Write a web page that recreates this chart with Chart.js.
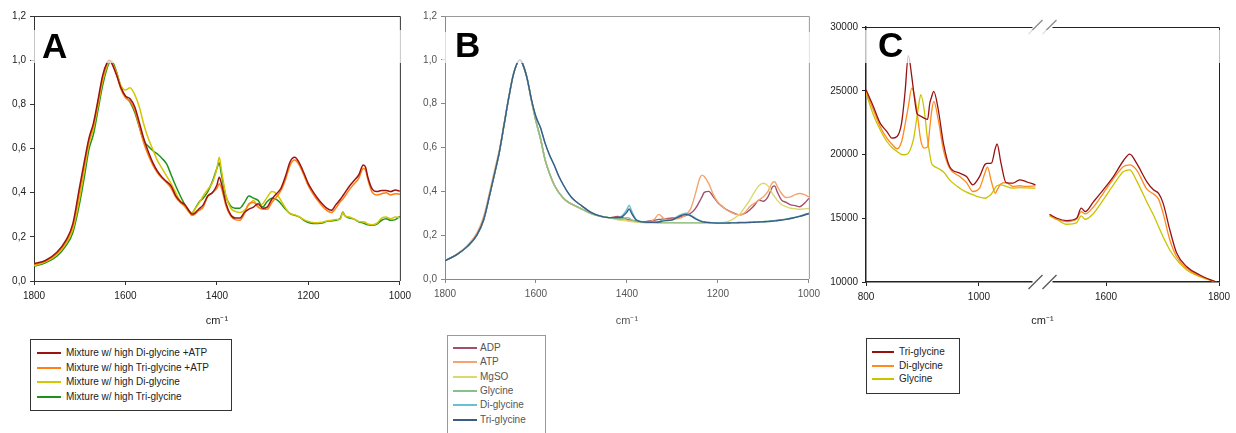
<!DOCTYPE html>
<html>
<head>
<meta charset="utf-8">
<script src="https://cdn.jsdelivr.net/npm/chart.js@4/dist/chart.umd.min.js"></script>
<style>
  body { margin: 0; background: #fff; width: 1236px; height: 433px; overflow: hidden; position: relative;
         font-family: "Liberation Sans", Arial, sans-serif; }
  canvas { position: absolute; top: 0; }
  .legend { position: absolute; background: #fff; border: 1px solid #333; box-sizing: border-box; }
  .legend .row { position: absolute; white-space: nowrap; font-size: 10px; line-height: 12px; }
  .legend .swatch { position: absolute; height: 2px; }
</style>
</head>
<body>
<canvas id="chartA" width="416" height="330" style="left:0px"></canvas>
<canvas id="chartB" width="410" height="330" style="left:415px"></canvas>
<canvas id="chartC" width="416" height="330" style="left:820px"></canvas>
<div id="legendA" class="legend" style="left:30px; top:339px; width:202px; height:72px;"></div>
<div id="legendB" class="legend" style="left:447px; top:335px; width:99px; height:110px; border-color:#999;"></div>
<div id="legendC" class="legend" style="left:866px; top:338px; width:94px; height:56px;"></div>

<script>
// ---------- panel A : mixtures, normalised ----------
var waveA = [1800,1775,1750,1730,1715,1700,1690,1680,1670,1660,1650,1640,1635,1630,1620,1610,1600,1590,1580,1570,
  1560,1550,1540,1530,1520,1510,1500,1490,1480,1470,1460,1455,1450,1440,1430,1420,1410,1400,1395,1390,
  1380,1370,1360,1350,1340,1330,1320,1310,1300,1290,1280,1270,1260,1250,1240,1230,1220,1210,1200,1190,
  1180,1170,1160,1150,1140,1130,1125,1120,1110,1100,1090,1080,1075,1070,1060,1050,1040,1030,1020,1010,1000];

var diAtpA = [0.078,0.093,0.13,0.185,0.26,0.43,0.54,0.645,0.715,0.82,0.93,0.99,1.0,0.985,0.935,0.875,0.838,0.825,0.79,0.72,
  0.645,0.585,0.535,0.497,0.47,0.45,0.43,0.385,0.36,0.345,0.315,0.303,0.305,0.325,0.345,0.385,0.40,0.435,0.47,0.44,
  0.35,0.30,0.285,0.285,0.31,0.325,0.335,0.35,0.33,0.335,0.37,0.395,0.42,0.475,0.54,0.56,0.535,0.49,0.44,0.405,
  0.375,0.35,0.33,0.32,0.345,0.37,0.385,0.40,0.43,0.455,0.48,0.525,0.515,0.47,0.415,0.405,0.41,0.41,0.405,0.412,0.407];

var triAtpA = [0.074,0.09,0.125,0.178,0.25,0.41,0.525,0.635,0.705,0.81,0.92,0.985,1.0,0.99,0.94,0.87,0.83,0.815,0.775,0.70,
  0.625,0.57,0.525,0.49,0.465,0.445,0.42,0.38,0.355,0.34,0.31,0.298,0.30,0.318,0.335,0.385,0.40,0.42,0.44,0.42,
  0.34,0.295,0.278,0.275,0.305,0.35,0.355,0.335,0.325,0.325,0.355,0.38,0.41,0.46,0.525,0.548,0.525,0.48,0.43,0.395,
  0.365,0.34,0.32,0.31,0.33,0.36,0.37,0.385,0.415,0.44,0.465,0.51,0.502,0.46,0.40,0.39,0.395,0.40,0.39,0.395,0.393];

var diA = [0.07,0.087,0.12,0.17,0.235,0.38,0.50,0.62,0.69,0.795,0.905,0.975,0.995,0.99,0.945,0.885,0.865,0.875,0.845,0.79,
  0.71,0.645,0.595,0.545,0.51,0.475,0.44,0.40,0.36,0.335,0.31,0.305,0.32,0.35,0.385,0.415,0.445,0.51,0.56,0.50,
  0.385,0.33,0.315,0.31,0.32,0.345,0.365,0.34,0.35,0.38,0.405,0.395,0.365,0.33,0.305,0.30,0.29,0.278,0.27,0.265,
  0.264,0.266,0.272,0.275,0.278,0.28,0.31,0.295,0.29,0.28,0.27,0.268,0.265,0.258,0.255,0.262,0.285,0.29,0.282,0.29,0.288];

var triA = [0.066,0.082,0.112,0.16,0.22,0.355,0.47,0.595,0.665,0.775,0.885,0.965,0.99,0.995,0.95,0.88,0.835,0.81,0.765,0.70,
  0.635,0.61,0.59,0.575,0.555,0.53,0.48,0.43,0.385,0.345,0.315,0.307,0.32,0.355,0.375,0.405,0.45,0.51,0.535,0.48,
  0.38,0.34,0.33,0.33,0.355,0.385,0.375,0.365,0.335,0.36,0.375,0.37,0.35,0.325,0.305,0.298,0.29,0.275,0.265,0.26,
  0.26,0.262,0.27,0.272,0.275,0.285,0.312,0.295,0.285,0.28,0.268,0.262,0.258,0.255,0.252,0.258,0.275,0.282,0.275,0.278,0.293];

var labelsA = ['Mixture w/ high Di-glycine +ATP', 'Mixture w/ high Tri-glycine +ATP', 'Mixture w/ high Di-glycine', 'Mixture w/ high Tri-glycine'];
var colorsA = ['#9b1414', '#ff7f10', '#d4c600', '#1e921e'];

// ---------- panel B : single components ----------
var waveB = [1800,1775,1750,1730,1715,1700,1690,1680,1670,1660,1650,1640,1635,1630,1620,1610,1600,1590,1580,1570,
  1560,1550,1540,1530,1520,1510,1500,1480,1460,1440,1420,1410,1400,1395,1390,1380,1370,1360,1350,1340,
  1330,1320,1310,1300,1290,1280,1270,1260,1250,1240,1235,1230,1220,1210,1200,1190,1180,1170,1160,1150,
  1140,1130,1120,1110,1100,1090,1080,1075,1070,1060,1050,1040,1030,1020,1010,1000];

var adpB = [0.083,0.11,0.15,0.2,0.27,0.4,0.49,0.585,0.705,0.825,0.93,0.99,1.0,0.985,0.92,0.815,0.72,0.64,0.545,0.48,
  0.43,0.395,0.37,0.352,0.34,0.33,0.32,0.30,0.287,0.28,0.285,0.28,0.272,0.27,0.268,0.265,0.262,0.262,0.265,0.268,
  0.272,0.274,0.276,0.278,0.28,0.285,0.29,0.30,0.32,0.355,0.375,0.395,0.40,0.375,0.348,0.33,0.315,0.305,0.296,0.293,
  0.30,0.315,0.335,0.36,0.355,0.375,0.42,0.425,0.40,0.36,0.35,0.338,0.335,0.33,0.345,0.368];

var atpB = [0.083,0.112,0.155,0.21,0.285,0.415,0.505,0.595,0.71,0.83,0.93,0.99,1.0,0.985,0.92,0.815,0.72,0.64,0.545,0.48,
  0.43,0.395,0.37,0.352,0.34,0.33,0.32,0.30,0.287,0.28,0.275,0.27,0.268,0.266,0.265,0.262,0.26,0.26,0.262,0.272,
  0.295,0.278,0.272,0.272,0.275,0.28,0.295,0.32,0.385,0.46,0.474,0.468,0.435,0.385,0.35,0.33,0.315,0.303,0.295,0.293,
  0.305,0.33,0.345,0.36,0.375,0.40,0.44,0.444,0.425,0.39,0.372,0.375,0.385,0.39,0.385,0.375];

var mgsoB = [0.083,0.11,0.15,0.2,0.27,0.4,0.49,0.585,0.705,0.825,0.93,0.99,1.0,0.985,0.92,0.815,0.72,0.64,0.545,0.48,
  0.43,0.395,0.37,0.352,0.34,0.33,0.32,0.30,0.287,0.28,0.27,0.268,0.265,0.263,0.262,0.26,0.258,0.257,0.257,0.257,
  0.257,0.257,0.257,0.257,0.256,0.256,0.256,0.256,0.256,0.256,0.256,0.256,0.256,0.256,0.257,0.258,0.262,0.27,0.283,0.30,
  0.33,0.36,0.395,0.425,0.437,0.425,0.39,0.375,0.36,0.34,0.33,0.323,0.32,0.318,0.32,0.322];

var glyB = [0.083,0.11,0.15,0.2,0.27,0.4,0.49,0.585,0.705,0.825,0.93,0.99,1.0,0.985,0.92,0.815,0.72,0.64,0.545,0.48,
  0.43,0.395,0.37,0.352,0.34,0.33,0.32,0.30,0.287,0.28,0.275,0.275,0.28,0.278,0.27,0.263,0.26,0.258,0.257,0.257,
  0.256,0.256,0.256,0.256,0.256,0.256,0.256,0.256,0.256,0.256,0.256,0.256,0.256,0.256,0.256,0.256,0.256,0.257,0.257,0.258,
  0.258,0.259,0.26,0.261,0.262,0.264,0.266,0.267,0.268,0.27,0.273,0.277,0.281,0.286,0.292,0.298];

var diglyB = [0.083,0.11,0.15,0.2,0.27,0.4,0.49,0.585,0.705,0.825,0.93,0.99,1.0,0.985,0.92,0.82,0.74,0.69,0.62,0.565,
  0.52,0.47,0.43,0.395,0.368,0.35,0.335,0.305,0.288,0.28,0.28,0.29,0.318,0.337,0.312,0.272,0.263,0.26,0.259,0.259,
  0.262,0.27,0.268,0.27,0.285,0.295,0.30,0.292,0.278,0.267,0.263,0.26,0.258,0.257,0.256,0.256,0.256,0.257,0.257,0.258,
  0.258,0.259,0.26,0.261,0.262,0.263,0.265,0.266,0.267,0.27,0.273,0.277,0.282,0.287,0.293,0.30];

var triglyB = [0.083,0.11,0.15,0.2,0.27,0.4,0.49,0.585,0.705,0.825,0.93,0.99,1.0,0.985,0.92,0.82,0.74,0.69,0.62,0.565,
  0.52,0.47,0.43,0.395,0.368,0.35,0.335,0.305,0.288,0.28,0.28,0.285,0.305,0.32,0.30,0.27,0.262,0.26,0.259,0.259,
  0.26,0.265,0.267,0.27,0.28,0.29,0.295,0.288,0.275,0.265,0.262,0.26,0.258,0.256,0.255,0.255,0.255,0.256,0.256,0.257,
  0.257,0.258,0.259,0.26,0.261,0.262,0.264,0.265,0.266,0.269,0.272,0.276,0.281,0.286,0.292,0.299];

var labelsB = ['ADP', 'ATP', 'MgSO', 'Glycine', 'Di-glycine', 'Tri-glycine'];
var colorsB = ['#a0506a', '#f4a46e', '#dcd870', '#88c08c', '#68c0d2', '#3c5c84'];

// ---------- panel C : raw intensity, broken axis ----------
var waveCLow = [800,813,825,837,846,855,863,869,875,881,885,890,893,897,903,909,913,916,920,928,
  937,948,966,978,989,1001,1011,1015,1022,1029,1032,1039,1048,1060,1072,1083,1100];
var waveCHigh = [1500,1513,1530,1548,1556,1563,1578,1595,1613,1631,1642,1654,1672,1684,1693,1701,1713,1725,1743,1766,1795];

var triLowC = [25080,23770,22460,21800,21280,21410,22460,24820,27750,26130,24700,23250,23100,23000,22850,22750,24030,24500,24950,23510,
  20890,19060,18540,18270,17620,18270,19240,19300,19320,20500,20840,19320,17800,17750,18010,17880,17620];
var diLowC = [24950,23510,22200,21280,20800,20450,21000,22300,23770,25200,24800,23510,22400,21100,20500,20600,22100,23300,24160,22720,
  20370,18930,18270,17800,17100,17360,18600,19010,17880,16960,17200,17700,17800,17490,17550,17500,17540];
var glyLowC = [24820,23120,21940,21020,20550,20240,20000,19980,20100,20700,21410,22900,23770,24690,23510,21150,20000,19320,19100,18900,
  18650,18010,17360,17050,16850,16650,16570,16650,16900,17400,17550,17620,17500,17360,17400,17380,17360];

var triHighC = [15310,15000,14820,15000,15790,15520,16310,17230,18270,19530,20030,19320,17880,17230,16950,16190,14080,12270,11200,10550,10000];
var diHighC = [15260,14900,14740,14950,15520,15340,15900,16960,18090,19060,19190,18800,17300,16900,16500,15400,13290,11980,11070,10470,10000];
var glyHighC = [15180,14900,14530,14660,15180,14920,15390,16440,17620,18670,18800,17950,16300,15250,14350,13550,12510,11750,10940,10420,10000];

var labelsC = ['Tri-glycine', 'Di-glycine', 'Glycine'];
var colorsC = ['#961212', '#ff8a1e', '#c8c400'];

var tickWaveC = [800, 1000, 1600, 1800];

// the gap 1100..1500 is squeezed to 25 units
var breakLow = 1100, breakHigh = 1500, breakGap = 25;
function breakX(w) {
  return w <= breakLow ? w : w - (breakHigh - breakLow) + breakGap;
}

var FONT = '"Liberation Sans", Arial, sans-serif';

function pairs(xs, ys) {
  var out = [];
  for (var i = 0; i < xs.length; i++) out.push({x: xs[i], y: ys[i]});
  return out;
}

function lineSet(label, color, data, width, order) {
  return {
    label: label, data: data, borderColor: color, backgroundColor: color, order: order || 0,
    borderWidth: width, pointRadius: 0, cubicInterpolationMode: 'monotone', spanGaps: false
  };
}

function commaLabel(v) {
  return v.toFixed(1).replace('.', ',');
}

// frame on top/right, the washed-out strip near the top, panel letter, break marks
function frameDecor(cfg) {
  return {
    id: 'frameDecor',
    afterDraw: function(chart) {
      var ctx = chart.ctx, a = chart.chartArea;
      ctx.save();
      ctx.strokeStyle = cfg.boxColor;
      ctx.lineWidth = cfg.boxWidth || 1;
      ctx.beginPath();
      ctx.moveTo(a.left, a.top + 0.5);
      ctx.lineTo(a.right + 0.5, a.top + 0.5);
      ctx.lineTo(a.right + 0.5, a.bottom);
      ctx.stroke();

      if (cfg.broken) {
        var xs = chart.scales.x;
        var c = (xs.getPixelForValue(breakLow) + xs.getPixelForValue(breakLow + breakGap)) / 2;
        ctx.fillStyle = '#fff';
        ctx.fillRect(c - 10, a.top - 3, 20, 6);
        ctx.fillRect(c - 10, a.bottom - 3, 20, 6);
        ctx.lineWidth = 1.2;
        [a.top, a.bottom].forEach(function(yy, k) {
          ctx.strokeStyle = k === 0 ? '#888' : '#555';
          [-7, 7].forEach(function(dx) {
            ctx.beginPath();
            ctx.moveTo(c + dx - 7, yy + 7);
            ctx.lineTo(c + dx + 7, yy - 7);
            ctx.stroke();
          });
        });
      }

      ctx.fillStyle = 'rgba(255,255,255,0.72)';
      ctx.fillRect(a.left - 3, cfg.bandTop, a.right - a.left + 6, cfg.bandBottom - cfg.bandTop);

      ctx.fillStyle = '#000';
      ctx.font = 'bold 35px ' + FONT;
      ctx.textBaseline = 'alphabetic';
      ctx.fillText(cfg.letter, cfg.letterX, cfg.letterY);
      ctx.restore();
    }
  };
}

function baseOptions(p) {
  return {
    responsive: false,
    animation: false,
    devicePixelRatio: 1,
    layout: {padding: {top: p.padTop, right: p.padRight, left: 0, bottom: 0}},
    plugins: {legend: {display: false}, tooltip: {enabled: false}},
    scales: {
      x: {
        type: 'linear', min: p.xMin, max: p.xMax, reverse: p.reverse,
        ticks: {stepSize: 200, font: {size: 10, family: FONT}, color: p.textColor, padding: 5, maxRotation: 0,
          callback: function(v) { return String(v); }},
        grid: {display: true, drawOnChartArea: false, drawTicks: true, tickLength: 4, color: p.axisColor},
        border: {display: true, color: p.axisColor, width: p.axisWidth || 1},
        title: {display: true, text: 'cm\u207B\u00B9', font: {size: 11, family: FONT}, color: p.textColor, padding: {top: 0, bottom: 2}},
        afterFit: function(s) { s.height = p.xHeight; }
      },
      y: {
        min: p.yMin, max: p.yMax,
        ticks: {stepSize: p.yStep, font: {size: 10, family: FONT}, color: p.textColor, padding: 4, callback: p.yLabel},
        grid: {display: true, drawOnChartArea: false, drawTicks: true, tickLength: 4, color: p.axisColor},
        border: {display: true, color: p.axisColor, width: p.axisWidth || 1},
        afterFit: function(s) { s.width = p.yWidth; }
      }
    }
  };
}

// ---- chart A ----
var setsA = [diAtpA, triAtpA, diA, triA].map(function(vals, i) {
  return lineSet(labelsA[i], colorsA[i], pairs(waveA, vals), 1.5);
});
new Chart(document.getElementById('chartA').getContext('2d'), {
  type: 'line',
  data: {datasets: setsA},
  options: baseOptions({padTop: 16, padRight: 16, xMin: 1000, xMax: 1800, reverse: true, xHeight: 49,
    yMin: 0, yMax: 1.2, yStep: 0.2, yWidth: 34, yLabel: commaLabel, textColor: '#222', axisColor: '#333'}),
  plugins: [frameDecor({letter: 'A', letterX: 42, letterY: 58, bandTop: 30, bandBottom: 63, boxColor: '#333'})]
});

// ---- chart B ---- (last series drawn on top, as in the figure)
var setsB = [adpB, atpB, mgsoB, glyB, diglyB, triglyB].map(function(vals, i) {
  return lineSet(labelsB[i], colorsB[i], pairs(waveB, vals), 1.4, labelsB.length - i);
});
new Chart(document.getElementById('chartB').getContext('2d'), {
  type: 'line',
  data: {datasets: setsB},
  options: baseOptions({padTop: 16, padRight: 14, xMin: 1000, xMax: 1800, reverse: true, xHeight: 51,
    yMin: 0, yMax: 1.2, yStep: 0.2, yWidth: 30, textColor: '#555', axisColor: '#888',
    yLabel: function(v) { return v === 1 ? '1.0' : commaLabel(v); }}),
  plugins: [frameDecor({letter: 'B', letterX: 40, letterY: 57, bandTop: 32, bandBottom: 63, boxColor: '#999'})]
});

// ---- chart C ----
var lowC = [triLowC, diLowC, glyLowC];
var highC = [triHighC, diHighC, glyHighC];
var setsC = labelsC.map(function(lab, i) {
  var pts = pairs(waveCLow.map(breakX), lowC[i]);
  pts.push({x: breakX(1300), y: null});
  pts = pts.concat(pairs(waveCHigh.map(breakX), highC[i]));
  return lineSet(lab, colorsC[i], pts, 1.3);
});
var tickPosC = tickWaveC.map(breakX);
var optsC = baseOptions({padTop: 27, padRight: 17, xMin: breakX(800), xMax: breakX(1800), reverse: false, xHeight: 48,
  yMin: 10000, yMax: 30000, yStep: 5000, yWidth: 46, textColor: '#222', axisColor: '#222', axisWidth: 1.5,
  yLabel: function(v) { return String(v); }});
optsC.scales.x.afterBuildTicks = function(s) {
  s.ticks = tickPosC.map(function(v) { return {value: v}; });
};
optsC.scales.x.ticks.callback = function(v) {
  var k = tickPosC.indexOf(v);
  return k < 0 ? '' : String(tickWaveC[k]);
};
new Chart(document.getElementById('chartC').getContext('2d'), {
  type: 'line',
  data: {datasets: setsC},
  options: optsC,
  plugins: [frameDecor({letter: 'C', letterX: 58, letterY: 57, bandTop: 30, bandBottom: 63, boxColor: '#222', broken: true})]
});

// ---- legends (html boxes under each panel) ----
function buildLegend(id, labels, colors, cfg) {
  var box = document.getElementById(id);
  for (var i = 0; i < labels.length; i++) {
    var top = cfg.firstRow + i * cfg.step;
    var sw = document.createElement('div');
    sw.className = 'swatch';
    sw.style.left = cfg.swLeft + 'px';
    sw.style.width = cfg.swWidth + 'px';
    sw.style.top = (top - 1) + 'px';
    sw.style.background = colors[i];
    box.appendChild(sw);
    var tx = document.createElement('div');
    tx.className = 'row';
    tx.style.left = cfg.textLeft + 'px';
    tx.style.top = (top - 6) + 'px';
    tx.style.color = cfg.textColor;
    tx.textContent = labels[i];
    box.appendChild(tx);
  }
}
buildLegend('legendA', labelsA, colorsA, {firstRow: 13, step: 14.5, swLeft: 6, swWidth: 24, textLeft: 35, textColor: '#222'});
buildLegend('legendB', labelsB, colorsB, {firstRow: 12, step: 14.3, swLeft: 5, swWidth: 24, textLeft: 32, textColor: '#555'});
buildLegend('legendC', labelsC, colorsC, {firstRow: 13, step: 13.5, swLeft: 5, swWidth: 22, textLeft: 32, textColor: '#222'});
</script>
</body>
</html>
